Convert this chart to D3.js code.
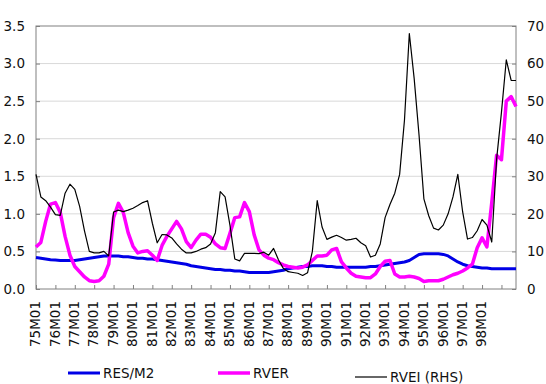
<!DOCTYPE html>
<html>
<head>
<meta charset="utf-8">
<script src="https://d3js.org/d3.v7.min.js"></script>
<style>
  body { margin: 0; background: #fff; }
  svg { display: block; font-family: "DejaVu Sans", Verdana, sans-serif; }
</style>
</head>
<body>
<svg id="chart" width="546" height="384"></svg>
<script>
// quarterly observations, 75M01 .. 99M10 (one value every 3 months)
var tickLabels = ["75M01","76M01","77M01","78M01","79M01","80M01","81M01","82M01",
                  "83M01","84M01","85M01","86M01","87M01","88M01","89M01","90M01",
                  "91M01","92M01","93M01","94M01","95M01","96M01","97M01","98M01"];

var resM2 = [
  0.42,0.41,0.40,0.39, 0.385,0.38,0.38,0.38, 0.38,0.39,0.40,0.41, 0.42,0.43,0.44,0.44,
  0.44,0.44,0.43,0.43, 0.42,0.41,0.41,0.40, 0.40,0.39,0.38,0.37, 0.36,0.35,0.34,0.33,
  0.31,0.30,0.29,0.28, 0.27,0.26,0.26,0.25, 0.25,0.24,0.24,0.23, 0.22,0.22,0.22,0.22,
  0.22,0.23,0.24,0.25, 0.27,0.28,0.29,0.30, 0.30,0.31,0.31,0.31, 0.30,0.30,0.29,0.29,
  0.29,0.29,0.29,0.29, 0.29,0.30,0.30,0.31, 0.32,0.33,0.34,0.35, 0.36,0.38,0.42,0.46,
  0.47,0.47,0.47,0.47, 0.46,0.44,0.40,0.36, 0.33,0.31,0.30,0.29, 0.28,0.28,0.27,0.27,
  0.27,0.27,0.27,0.27
];

var rver = [
  0.56,0.62,0.90,1.13, 1.15,1.02,0.70,0.45, 0.30,0.23,0.16,0.11, 0.10,0.11,0.17,0.33,
  0.95,1.14,1.02,0.75, 0.57,0.48,0.50,0.51, 0.45,0.38,0.58,0.70, 0.80,0.90,0.80,0.63,
  0.55,0.65,0.73,0.73, 0.69,0.60,0.55,0.54, 0.74,0.95,0.96,1.15, 1.03,0.72,0.52,0.45,
  0.41,0.39,0.35,0.32, 0.30,0.29,0.28,0.29, 0.32,0.38,0.44,0.44, 0.45,0.52,0.54,0.36,
  0.28,0.21,0.17,0.16, 0.15,0.15,0.20,0.30, 0.37,0.38,0.20,0.16, 0.16,0.17,0.16,0.14,
  0.10,0.11,0.11,0.11, 0.13,0.16,0.19,0.21, 0.24,0.28,0.33,0.55, 0.68,0.56,1.15,1.78,
  1.72,2.50,2.56,2.43
];

var rvei = [
  30.5,24.5,23.5,21.8, 19.8,19.6,25.5,27.9, 26.5,22.0,15.5,10.0, 9.6,9.6,10.0,8.8,
  20.5,21.0,20.6,21.0, 21.5,22.2,23.0,23.5, 17.5,12.3,14.5,14.4, 13.6,12.0,10.6,9.6,
  9.6,10.0,10.6,11.0, 12.0,15.0,25.9,24.5, 17.0,8.0,7.5,9.5, 9.5,9.5,9.4,9.8,
  9.0,10.8,7.8,5.5, 4.6,4.4,4.2,3.6, 4.3,10.0,23.5,16.5, 13.2,13.8,14.3,13.7,
  13.0,13.2,13.5,12.3, 11.5,8.5,9.0,12.0, 19.0,22.5,25.5,30.5, 45.0,68.0,56.0,41.0,
  24.0,19.5,16.2,15.7, 17.0,20.0,24.5,30.5, 20.5,13.3,13.7,15.5, 18.5,17.0,12.5,34.5,
  47.0,61.0,55.5,55.5
];

var frame = d3.select("#chart"),
    margin = {top: 26, right: 30, bottom: 95, left: 36},
    width = +frame.attr("width"),
    height = +frame.attr("height"),
    plot_w = width - margin.left - margin.right,
    plot_h = height - margin.top - margin.bottom;

var lastMonth = (resM2.length - 1) * 3;

var x = d3.scaleLinear().domain([0, lastMonth]).range([0, plot_w]),
    yL = d3.scaleLinear().domain([0, 3.5]).range([plot_h, 0]),
    yR = d3.scaleLinear().domain([0, 70]).range([plot_h, 0]);

var g = frame.append("g")
    .attr("transform", "translate(" + margin.left + "," + margin.top + ")");

// horizontal gridlines
g.append("g")
  .selectAll("line")
  .data(yL.ticks(7).filter(function(d) { return d > 0 && d < 3.5; }))
  .enter().append("line")
    .attr("x1", 0).attr("x2", plot_w)
    .attr("y1", function(d) { return yL(d); })
    .attr("y2", function(d) { return yL(d); })
    .attr("stroke", "#d9d9d9")
    .attr("stroke-width", 1);

// left axis
var leftAxis = g.append("g")
    .call(d3.axisLeft(yL).ticks(7).tickSize(-4).tickPadding(11)
          .tickFormat(d3.format(".1f")));

// right axis
var rightAxis = g.append("g")
    .attr("transform", "translate(" + plot_w + ",0)")
    .call(d3.axisRight(yR).ticks(7).tickSize(-4).tickPadding(11));

// bottom axis, a tick every January
var tickMonths = d3.range(0, lastMonth, 12);
var bottomAxis = g.append("g")
    .attr("transform", "translate(0," + plot_h + ")")
    .call(d3.axisBottom(x).tickValues(tickMonths).tickSize(-4)
          .tickFormat(function(d, i) { return tickLabels[i] || ""; }));

bottomAxis.selectAll("text")
    .attr("transform", "rotate(-90)")
    .attr("text-anchor", "end")
    .attr("x", -12)
    .attr("y", -1)
    .attr("dy", "0.35em");

[leftAxis, rightAxis, bottomAxis].forEach(function(a) {
    a.select(".domain").remove();
    a.selectAll("line").attr("stroke", "#808080");
    a.selectAll("text")
      .attr("fill", "#111")
      .attr("font-size", "13.5px")
      .attr("font-family", "DejaVu Sans, sans-serif");
});

// plot frame
g.append("rect")
    .attr("x", 0).attr("y", 0)
    .attr("width", plot_w).attr("height", plot_h)
    .attr("fill", "none")
    .attr("stroke", "#808080")
    .attr("stroke-width", 1);

// series lines
var lineL = d3.line()
    .x(function(d, i) { return x(i * 3); })
    .y(function(d) { return yL(d); });

var lineR = d3.line()
    .x(function(d, i) { return x(i * 3); })
    .y(function(d) { return yR(d); });

g.append("path")
    .attr("d", lineL(resM2))
    .attr("fill", "none")
    .attr("stroke", "#0000e6")
    .attr("stroke-width", 3)
    .attr("stroke-linejoin", "round");

g.append("path")
    .attr("d", lineL(rver))
    .attr("fill", "none")
    .attr("stroke", "#ff00ff")
    .attr("stroke-width", 3.5)
    .attr("stroke-linejoin", "round");

g.append("path")
    .attr("d", lineR(rvei))
    .attr("fill", "none")
    .attr("stroke", "#000")
    .attr("stroke-width", 1.2)
    .attr("stroke-linejoin", "round");

// legend
var legendItems = [
    {name: "RES/M2", color: "#0000e6", w: 3, x: 68, y: 373},
    {name: "RVER", color: "#ff00ff", w: 3.5, x: 218, y: 373},
    {name: "RVEI (RHS)", color: "#000", w: 1.2, x: 355, y: 377}
];

var legend = frame.append("g")
  .selectAll("g")
  .data(legendItems)
  .enter().append("g")
    .attr("transform", function(d) { return "translate(" + d.x + "," + d.y + ")"; });

legend.append("line")
    .attr("x1", 0).attr("x2", 32)
    .attr("y1", 0).attr("y2", 0)
    .attr("stroke", function(d) { return d.color; })
    .attr("stroke-width", function(d) { return d.w; });

legend.append("text")
    .attr("x", 35)
    .attr("dy", "0.35em")
    .attr("font-size", "13.5px")
    .attr("fill", "#111")
    .text(function(d) { return d.name; });
</script>
</body>
</html>
